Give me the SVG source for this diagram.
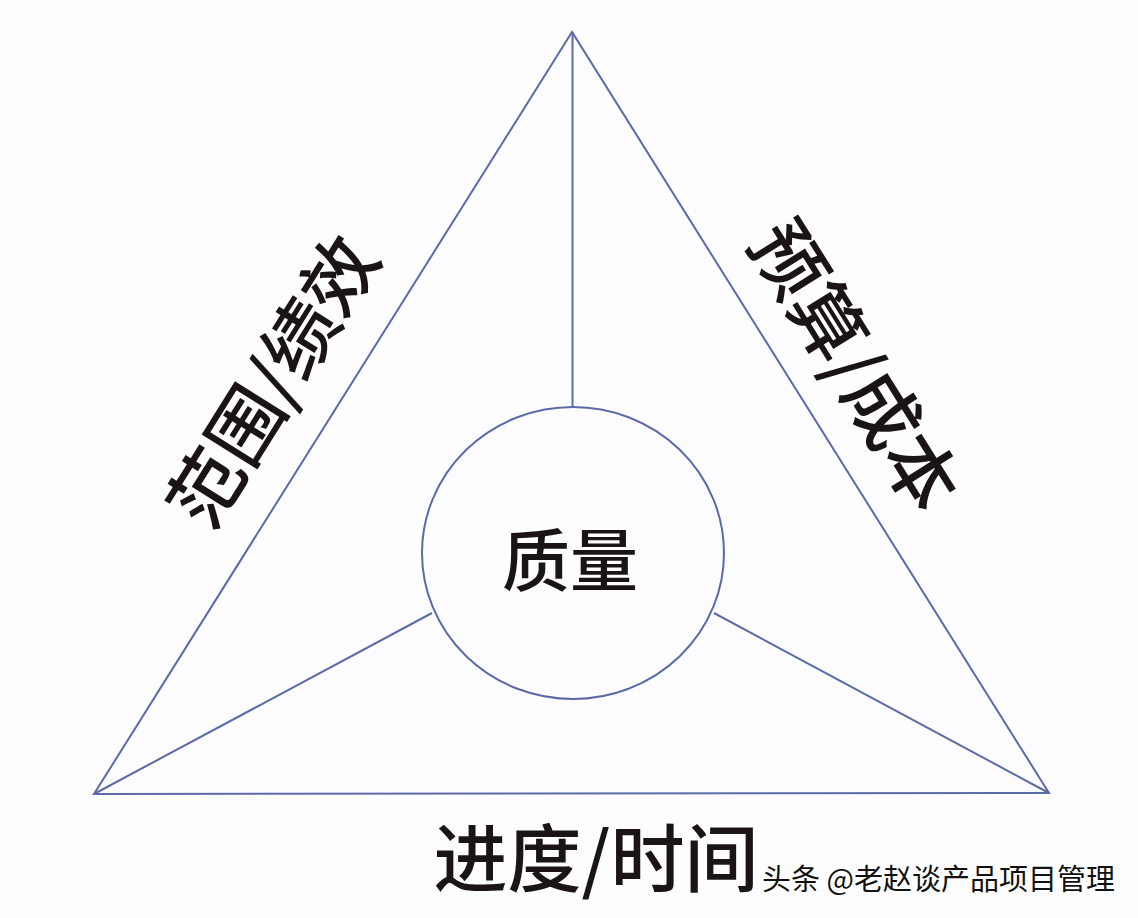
<svg xmlns="http://www.w3.org/2000/svg" width="1138" height="918" viewBox="0 0 1138 918">
<style>
.ln{stroke:#5c6aa6;stroke-width:2;fill:none;stroke-linejoin:miter}
.lab{font-family:"Noto Sans CJK SC","Noto Sans",sans-serif;font-weight:500;fill:#1a1418}
.wm{font-family:"Noto Sans CJK SC","Noto Sans",sans-serif;font-size:29px;fill:#111;stroke:#fff;stroke-width:3;paint-order:stroke}
</style>
<rect width="1138" height="918" fill="#fdfdff"/>
<g id="connectors">
<polygon class="ln" points="572,32 94,794 1049,793"/>
<line class="ln" x1="572.5" y1="32" x2="572.5" y2="407"/>
<line class="ln" x1="94" y1="794" x2="432" y2="613"/>
<line class="ln" x1="1049" y1="793" x2="714" y2="613"/>
</g>
<g id="quality">
<ellipse class="ln" cx="573" cy="553" rx="151" ry="146"/>
<text class="lab" x="570" y="586" font-size="68" text-anchor="middle">质量</text>
</g>
<g id="scope">
<text class="lab" font-size="74" text-anchor="middle" transform="translate(296,396) rotate(-58)">范围/绩效</text>
</g>
<g id="budget">
<text class="lab" font-size="74" text-anchor="middle" transform="translate(832,380) rotate(58)">预算/成本</text>
</g>
<g id="schedule">
<text class="lab" x="596" y="886" font-size="74" text-anchor="middle">进度/时间</text>
</g>
<g id="watermark">
<text class="wm" x="762" y="890">头条 @老赵谈产品项目管理</text>
</g>
</svg>
